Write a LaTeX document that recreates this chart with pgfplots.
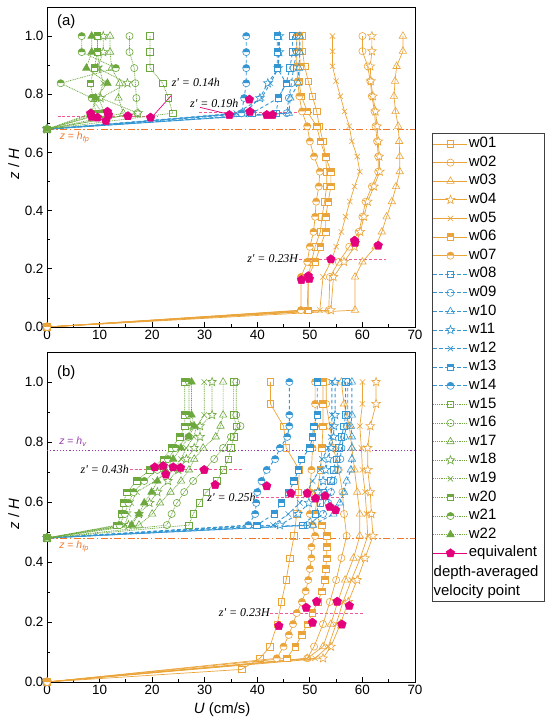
\documentclass[border=0pt]{standalone}
\usepackage{pgfplots}
\pgfplotsset{compat=1.18}
\usepackage{pgfplotstable}
\usepackage{fontspec}
\setmainfont{Liberation Sans}
\newfontfamily\timesf{Liberation Serif}
\usetikzlibrary{plotmarks}

\definecolor{cO}{RGB}{234,164,58}
\definecolor{cB}{RGB}{52,150,210}
\definecolor{cG}{RGB}{108,168,62}
\definecolor{cP}{RGB}{228,0,125}
\definecolor{cPL}{RGB}{240,90,150}
\definecolor{cFP}{RGB}{240,120,45}
\definecolor{cV}{RGB}{150,60,170}

\pgfdeclareplotmark{ostar}{%
 \pgfpathmoveto{\pgfpointpolar{90}{\pgfplotmarksize}}%
 \pgfpathlineto{\pgfpointpolar{126}{0.42\pgfplotmarksize}}%
 \pgfpathlineto{\pgfpointpolar{162}{\pgfplotmarksize}}%
 \pgfpathlineto{\pgfpointpolar{198}{0.42\pgfplotmarksize}}%
 \pgfpathlineto{\pgfpointpolar{234}{\pgfplotmarksize}}%
 \pgfpathlineto{\pgfpointpolar{270}{0.42\pgfplotmarksize}}%
 \pgfpathlineto{\pgfpointpolar{306}{\pgfplotmarksize}}%
 \pgfpathlineto{\pgfpointpolar{342}{0.42\pgfplotmarksize}}%
 \pgfpathlineto{\pgfpointpolar{18}{\pgfplotmarksize}}%
 \pgfpathlineto{\pgfpointpolar{54}{0.42\pgfplotmarksize}}%
 \pgfpathclose\pgfusepathqfillstroke}

\newcommand\defhalf[2]{%
\pgfdeclareplotmark{hsq#1}{%
  \pgfpathrectangle{\pgfpoint{-\pgfplotmarksize}{-\pgfplotmarksize}}{\pgfpoint{2\pgfplotmarksize}{2\pgfplotmarksize}}%
  \pgfsetfillcolor{white}\pgfusepathqfill
  \pgfpathrectangle{\pgfpoint{-\pgfplotmarksize}{0pt}}{\pgfpoint{2\pgfplotmarksize}{\pgfplotmarksize}}%
  \pgfsetfillcolor{#2}\pgfusepathqfill
  \pgfpathrectangle{\pgfpoint{-\pgfplotmarksize}{-\pgfplotmarksize}}{\pgfpoint{2\pgfplotmarksize}{2\pgfplotmarksize}}%
  \pgfusepathqstroke}%
\pgfdeclareplotmark{hci#1}{%
  \pgfpathcircle{\pgfpointorigin}{\pgfplotmarksize}%
  \pgfsetfillcolor{white}\pgfusepathqfill
  \pgfpathmoveto{\pgfpoint{\pgfplotmarksize}{0pt}}%
  \pgfpatharc{0}{180}{\pgfplotmarksize}%
  \pgfpathclose
  \pgfsetfillcolor{#2}\pgfusepathqfill
  \pgfpathcircle{\pgfpointorigin}{\pgfplotmarksize}%
  \pgfusepathqstroke}%
}
\defhalf{O}{cO}
\defhalf{B}{cB}
\defhalf{G}{cG}

\tikzset{zlab/.style={inner sep=0pt, font=\fontsize{12}{13}\timesf\itshape}}

\pgfplotsset{
 panel/.style={
  scale only axis, width=368bp,
  xmin=0, xmax=70, ymin=0, ymax=1.1,
  xtick={0,10,20,30,40,50,60,70},
  ytick={0,0.2,0.4,0.6,0.8,1.0},
  minor x tick num=1, minor y tick num=1,
  xtick pos=bottom, ytick pos=left, tick align=inside,
  major tick length=5bp, minor tick length=3bp,
  tick style={line width=0.8pt, black},
  axis line style={line width=0.9pt},
  ticklabel style={font=\fontsize{13.5}{14}\selectfont},
  /pgf/number format/assume math mode=true,
  yticklabel style={/pgf/number format/.cd, fixed, fixed zerofill, precision=1},
  label style={font=\fontsize{15}{16}\selectfont},
  ylabel={\itshape z\upshape{} / \itshape H},
  ylabel style={at={(axis description cs:-0.09,0.51)}, anchor=center},
 },
 mO/.style={cO, line width=0.7pt, mark options={solid, fill=white, line width=0.6pt}},
 mB/.style={cB, line width=0.9pt, dash pattern=on 3.5pt off 2.5pt, mark options={solid, fill=white, line width=0.6pt}},
 mG/.style={cG, line width=0.7pt, dash pattern=on 1pt off 0.8pt, mark options={solid, fill=white, line width=0.6pt}},
 kSq/.style={mark=square, mark size=3.3pt},
 kCi/.style={mark=o, mark size=3.6pt},
 kTr/.style={mark=triangle, mark size=4.3pt},
 kSt/.style={mark=ostar, mark size=4.6pt},
 kX/.style={mark=x, mark size=3.8pt},
 pent/.style={only marks, mark=pentagon*, mark size=4.6pt, color=cP, mark options={fill=cP, draw=cP}},
}

% ---------------- panel (a) data ----------------
\pgfplotstableread{
z      w01  w02  w03  w04  w05  w06  w07
1.000  48.5 60.0 67.7 61.8 54.3 48.0 47.5
0.948  48.6 60.0 67.7 61.8 54.3 48.0 47.5
0.896  49.0 61.0 66.5 61.5 54.3 48.2 47.5
0.845  49.7 61.5 66.2 61.6 55.0 47.9 47.7
0.793  50.5 61.8 66.0 62.0 55.8 48.4 48.0
0.741  51.3 62.3 66.3 62.5 56.6 49.5 48.5
0.690  51.8 62.5 66.8 62.8 57.5 51.3 49.5
0.638  52.5 62.8 67.0 63.0 58.0 52.0 50.0
0.586  53.0 63.0 67.1 63.2 59.0 53.0 50.8
0.534  53.2 63.0 67.1 63.3 59.5 54.0 51.9
0.483  53.2 61.8 66.4 62.2 58.5 54.0 51.7
0.431  52.8 60.6 65.6 61.0 57.6 53.5 51.2
0.379  52.3 60.0 64.6 60.3 56.8 53.0 51.0
0.327  52.0 59.3 63.7 59.6 56.0 53.0 50.7
0.276  51.0 57.5 62.5 58.5 55.0 52.0 50.0
0.224  50.3 55.5 60.0 56.5 54.0 51.0 49.5
0.172  49.7 53.8 58.6 54.5 52.5 49.7 48.3
0.058  49.5 53.6 58.6 54.0 51.9 49.7 48.3
0.000  0    0    0    0    0    0    0
}\tAO
\pgfplotstableread{
z      w08  w09  w10  w11  w12  w13  w14
1.000  46.7 47.5 48.1 44.2 44.0 43.8 37.9
0.945  46.7 47.5 48.1 44.2 44.0 43.8 37.9
0.890  46.2 46.9 47.9 44.0 44.0 43.8 37.9
0.838  45.5 46.5 47.8 42.0 42.5 45.5 37.9
0.787  44.0 46.0 46.3 40.5 40.8 44.0 37.5
0.735  43.6 45.6 46.0 37.5 36.0 39.0 37.0
0.680  0    0    0    0    0    0    0
}\tAB
\pgfplotstableread{
z      w15  w16  w17  w18  w19  w20  w21  w22
1.000  19.6 15.7 12.0 10.7 9.6  9.6  6.6  8.5
0.945  19.6 15.7 12.0 10.7 9.6  9.6  6.6  8.5
0.890  19.6 16.6 12.3 9.6  10.0 9.0  13.1 7.5
0.838  22.0 16.8 13.8 15.3 10.7 8.2  2.6  11.5
0.787  23.1 17.0 13.6 10.2 9.8  8.8  8.5  9.2
0.735  23.9 17.2 14.5 17.3 11.0 9.3  10.5 8.5
0.680  0    0    0    0    0    0    0    0
}\tAG

% ---------------- panel (b) data ----------------
\pgfplotstableread{
z      w01  w02  w03  w04  w05  w06  w07
1.000  42.5 53.1 56.0 62.6 60.0 52.5 51.0
0.927  42.5 53.1 56.5 62.6 60.0 52.5 51.0
0.853  45.0 53.8 57.5 61.5 59.5 52.5 51.0
0.780  45.5 54.5 58.0 61.0 59.8 52.3 50.5
0.707  48.0 55.5 58.5 61.0 60.0 52.0 50.3
0.633  47.8 56.2 59.0 61.5 60.5 51.5 50.0
0.560  47.5 56.5 59.5 61.7 60.8 51.0 50.0
0.523  nan  nan  nan  nan  nan  52.3 50.5
0.487  47.0 57.0 59.5 62.0 61.0 53.2 51.0
0.450  nan  nan  nan  nan  nan  53.2 50.3
0.413  46.2 56.0 58.3 60.5 59.6 53.2 50.3
0.377  nan  nan  nan  nan  nan  53.0 50.0
0.340  45.5 55.0 56.7 59.0 57.9 52.8 49.7
0.303  nan  nan  nan  nan  nan  52.3 49.2
0.267  44.6 53.8 55.3 57.3 56.3 51.5 48.5
0.230  nan  nan  nan  nan  nan  50.5 47.5
0.193  43.8 52.5 54.0 55.8 55.0 49.5 46.8
0.157  nan  nan  nan  nan  nan  48.5 46.0
0.118  42.4 50.8 52.5 54.0 53.5 47.2 45.0
0.079  40.5 49.5 49.5 52.5 51.0 45.6 43.7
0.042  37.0 nan  nan  nan  nan  nan  nan
0.000  0    0    0    0    0    0    0
}\tBO
\pgfplotstableread{
z      w08  w09  w10  w11  w12  w13  w14
1.000  56.8 57.2 58.0 54.8 54.2 51.4 46.1
0.890  56.8 57.2 58.0 54.8 54.2 51.4 46.1
0.853  56.5 57.0 57.8 54.6 54.2 50.7 46.1
0.817  56.0 56.5 58.0 54.5 54.0 50.5 45.7
0.780  55.5 56.0 58.0 54.0 53.5 50.0 44.3
0.743  55.0 55.8 58.0 53.5 52.3 48.4 43.4
0.707  54.5 55.3 57.8 53.0 51.9 47.8 41.8
0.670  54.0 54.5 57.0 52.5 50.5 47.0 40.8
0.633  52.5 54.0 56.5 51.5 49.5 46.0 40.0
0.597  52.0 53.5 55.7 49.8 48.1 44.6 39.8
0.560  51.0 52.5 54.5 47.8 45.9 43.2 39.6
0.523  48.7 49.5 50.6 44.3 43.0 39.9 38.3
0.480  0    0    0    0    0    0    0
}\tBB
\pgfplotstableread{
z      w15  w16  w17  w18  w19  w20  w21  w22
1.000  35.5 36.0 33.5 31.4 29.9 26.2 27.0 27.5
0.890  35.5 36.0 33.5 31.4 29.9 26.2 27.0 27.5
0.853  36.0 36.8 33.0 29.1 28.5 26.2 27.5 28.0
0.817  35.5 35.0 32.1 29.1 27.9 25.3 26.9 27.0
0.780  35.0 33.5 29.7 28.0 26.5 23.7 24.5 25.5
0.743  34.5 31.8 28.0 26.5 25.5 22.1 23.0 24.0
0.707  33.5 29.9 27.0 25.0 24.0 19.5 21.0 22.5
0.670  32.3 27.8 25.5 23.0 20.5 17.1 18.5 21.0
0.633  30.3 26.1 23.5 21.0 17.1 15.2 16.5 19.9
0.597  29.0 24.7 21.5 19.5 16.0 14.5 15.5 18.5
0.560  27.8 23.7 20.0 17.5 15.5 14.2 14.8 17.5
0.523  27.0 22.8 17.5 15.5 14.8 13.3 13.8 16.1
0.480  0    0    0    0    0    0    0    0
}\tBG

\begin{document}
\begin{tikzpicture}
% ================= panel (a) =================
\begin{axis}[panel, at={(47bp,395bp)}, anchor=south west, height=320bp,
  legend style={at={(1.049,0.596)}, anchor=north west, draw=none, fill=none,
    inner sep=0pt, outer sep=0pt, row sep=3.1bp,
    font=\fontsize{15}{15}\selectfont,
    nodes={inner sep=1bp, text height=10.5bp, text depth=3bp}},
  legend cell align=left,
  legend image code/.code={\draw[mark repeat=2,mark phase=2,#1] plot coordinates {(0bp,0bp) (17bp,0bp) (34bp,0bp)};},
]
\draw[cFP, line width=0.9pt, dash pattern=on 7pt off 2.5pt on 1.5pt off 2.5pt] (axis cs:0,0.68) -- (axis cs:70,0.68);
\draw[cPL, line width=0.8pt, dash pattern=on 3pt off 2pt] (axis cs:2,0.725) -- (axis cs:21,0.725);
\draw[cPL, line width=0.8pt, dash pattern=on 3pt off 2pt] (axis cs:29,0.737) -- (axis cs:50.5,0.737);
\draw[cPL, line width=0.8pt, dash pattern=on 3pt off 2pt] (axis cs:47.9,0.234) -- (axis cs:64.6,0.234);
\draw[cP, line width=0.7pt] (axis cs:19.9,0.72) -- (axis cs:23.6,0.795);
\draw[cP, line width=0.7pt] (axis cs:29.1,0.755) -- (axis cs:34.2,0.733);

\addplot[mO, kSq] table[x=w01,y=z]{\tAO}; \addlegendentry{w01}
\addplot[mO, kCi] table[x=w02,y=z]{\tAO}; \addlegendentry{w02}
\addplot[mO, kTr] table[x=w03,y=z]{\tAO}; \addlegendentry{w03}
\addplot[mO, kSt] table[x=w04,y=z]{\tAO}; \addlegendentry{w04}
\addplot[mO, kX]  table[x=w05,y=z]{\tAO}; \addlegendentry{w05}
\addplot[mO, mark=hsqO, mark size=3.3pt] table[x=w06,y=z]{\tAO}; \addlegendentry{w06}
\addplot[mO, mark=hciO, mark size=3.6pt] table[x=w07,y=z]{\tAO}; \addlegendentry{w07}
\addplot[mB, kSq] table[x=w08,y=z]{\tAB}; \addlegendentry{w08}
\addplot[mB, kCi] table[x=w09,y=z]{\tAB}; \addlegendentry{w09}
\addplot[mB, kTr] table[x=w10,y=z]{\tAB}; \addlegendentry{w10}
\addplot[mB, kSt] table[x=w11,y=z]{\tAB}; \addlegendentry{w11}
\addplot[mB, kX]  table[x=w12,y=z]{\tAB}; \addlegendentry{w12}
\addplot[mB, mark=hsqB, mark size=3.3pt] table[x=w13,y=z]{\tAB}; \addlegendentry{w13}
\addplot[mB, mark=hciB, mark size=3.6pt] table[x=w14,y=z]{\tAB}; \addlegendentry{w14}
\addplot[mG, kSq] table[x=w15,y=z]{\tAG}; \addlegendentry{w15}
\addplot[mG, kCi] table[x=w16,y=z]{\tAG}; \addlegendentry{w16}
\addplot[mG, kTr] table[x=w17,y=z]{\tAG}; \addlegendentry{w17}
\addplot[mG, kSt] table[x=w18,y=z]{\tAG}; \addlegendentry{w18}
\addplot[mG, kX]  table[x=w19,y=z]{\tAG}; \addlegendentry{w19}
\addplot[mG, mark=hsqG, mark size=3.3pt] table[x=w20,y=z]{\tAG}; \addlegendentry{w20}
\addplot[mG, mark=hciG, mark size=3.6pt] table[x=w21,y=z]{\tAG}; \addlegendentry{w21}
\addplot[mG, mark=triangle*, mark size=4.3pt, mark options={solid, fill=cG}] table[x=w22,y=z]{\tAG}; \addlegendentry{w22}
\addplot[pent, legend image code/.code={\draw[cP, line width=0.9pt] (0bp,0bp) -- (34bp,0bp); \draw[cP, fill=cP, mark=pentagon*, mark size=4.6pt] plot coordinates {(17bp,0bp)};}] coordinates {
 (8.3,0.734) (8.5,0.723) (9.6,0.720) (11.5,0.740) (11.7,0.729) (11.2,0.709) (15.4,0.725) (19.7,0.720)
 (38.5,0.782) (38.6,0.740) (34.7,0.729) (41.8,0.729) (42.9,0.729)
 (48.4,0.162) (49.7,0.175) (49.9,0.165) (54.0,0.233) (58.5,0.297) (58.6,0.290) (63.0,0.280)};
\addlegendentry{equivalent}

\node[anchor=west, inner sep=0pt, font=\fontsize{15}{15}\selectfont] at (axis cs:1.9,1.048) {(a)};
\node[anchor=west, inner sep=0pt, text=cFP, font=\fontsize{10.5}{11}\selectfont] at (axis cs:2.4,0.652) {\itshape z\upshape{} = \itshape h\textsubscript{fp}};
\node[zlab, anchor=west] at (axis cs:23.7,0.842) {z' = 0.14h};
\node[zlab, anchor=west] at (axis cs:27.2,0.770) {z' = 0.19h};
\node[zlab, anchor=east] at (axis cs:47.8,0.234) {z' = 0.23H};
\end{axis}

% ================= panel (b) =================
\begin{axis}[panel, at={(47bp,40bp)}, anchor=south west, height=330bp,
  xlabel={\itshape U\upshape{} (cm/s)},
  xlabel style={at={(axis description cs:0.476,-0.085)}, anchor=center},
]
\draw[cFP, line width=0.9pt, dash pattern=on 7pt off 2.5pt on 1.5pt off 2.5pt] (axis cs:0,0.48) -- (axis cs:70,0.48);
\draw[cV, line width=1.1pt, dash pattern=on 1.2pt off 2pt] (axis cs:0,0.773) -- (axis cs:70,0.773);
\draw[cPL, line width=0.8pt, dash pattern=on 3pt off 2pt] (axis cs:15.7,0.707) -- (axis cs:37,0.707);
\draw[cPL, line width=0.8pt, dash pattern=on 3pt off 2pt] (axis cs:39.8,0.616) -- (axis cs:56.4,0.616);
\draw[cPL, line width=0.8pt, dash pattern=on 3pt off 2pt] (axis cs:42.5,0.230) -- (axis cs:60.1,0.230);

\addplot[mO, kSq] table[x=w01,y=z]{\tBO};
\addplot[mO, kCi] table[x=w02,y=z]{\tBO};
\addplot[mO, kTr] table[x=w03,y=z]{\tBO};
\addplot[mO, kSt] table[x=w04,y=z]{\tBO};
\addplot[mO, kX]  table[x=w05,y=z]{\tBO};
\addplot[mO, mark=hsqO, mark size=3.3pt] table[x=w06,y=z]{\tBO};
\addplot[mO, mark=hciO, mark size=3.6pt] table[x=w07,y=z]{\tBO};
\addplot[mB, kSq] table[x=w08,y=z]{\tBB};
\addplot[mB, kCi] table[x=w09,y=z]{\tBB};
\addplot[mB, kTr] table[x=w10,y=z]{\tBB};
\addplot[mB, kSt] table[x=w11,y=z]{\tBB};
\addplot[mB, kX]  table[x=w12,y=z]{\tBB};
\addplot[mB, mark=hsqB, mark size=3.3pt] table[x=w13,y=z]{\tBB};
\addplot[mB, mark=hciB, mark size=3.6pt] table[x=w14,y=z]{\tBB};
\addplot[mG, kSq] table[x=w15,y=z]{\tBG};
\addplot[mG, kCi] table[x=w16,y=z]{\tBG};
\addplot[mG, kTr] table[x=w17,y=z]{\tBG};
\addplot[mG, kSt] table[x=w18,y=z]{\tBG};
\addplot[mG, kX]  table[x=w19,y=z]{\tBG};
\addplot[mG, mark=hsqG, mark size=3.3pt] table[x=w20,y=z]{\tBG};
\addplot[mG, mark=hciG, mark size=3.6pt] table[x=w21,y=z]{\tBG};
\addplot[mG, mark=triangle*, mark size=4.3pt, mark options={solid, fill=cG}] table[x=w22,y=z]{\tBG};
\addplot[pent] coordinates {
 (20.5,0.716) (22.1,0.720) (22.6,0.692) (24.0,0.716) (25.4,0.714) (29.9,0.707) (32.0,0.657)
 (41.8,0.653) (46.4,0.629) (49.5,0.629) (51.1,0.612) (52.9,0.620) (53.8,0.584) (54.9,0.573)
 (44.1,0.187) (49.3,0.248) (51.3,0.268) (50.5,0.198) (55.2,0.268) (57.5,0.254) (56.1,0.192)};

\node[anchor=west, inner sep=0pt, font=\fontsize{15}{15}\selectfont] at (axis cs:1.9,1.03) {(b)};
\node[anchor=west, inner sep=0pt, text=cFP, font=\fontsize{10.5}{11}\selectfont] at (axis cs:2.3,0.452) {\itshape z\upshape{} = \itshape h\textsubscript{fp}};
\node[anchor=west, inner sep=0pt, text=cV, font=\fontsize{10.5}{11}\selectfont] at (axis cs:2.3,0.800) {\itshape z\upshape{} = \itshape h\textsubscript{v}};
\node[zlab, anchor=east] at (axis cs:15.6,0.707) {z' = 0.43h};
\node[zlab, anchor=east] at (axis cs:39.7,0.616) {z' = 0.25h};
\node[zlab, anchor=east] at (axis cs:42.4,0.230) {z' = 0.23H};
\end{axis}

% legend frame and continuation lines
\draw[line width=0.7pt, black!75] (432bp,121bp) rectangle (544bp,589bp);
\node[anchor=base west, inner sep=0pt, font=\fontsize{15}{15}\selectfont] at (433.5bp,145.3bp) {depth-averaged};
\node[anchor=base west, inner sep=0pt, font=\fontsize{15}{15}\selectfont] at (433.5bp,126.7bp) {velocity point};

\pgfresetboundingbox
\path[use as bounding box] (0,0) rectangle (550bp,722bp);
\end{tikzpicture}
\end{document}
